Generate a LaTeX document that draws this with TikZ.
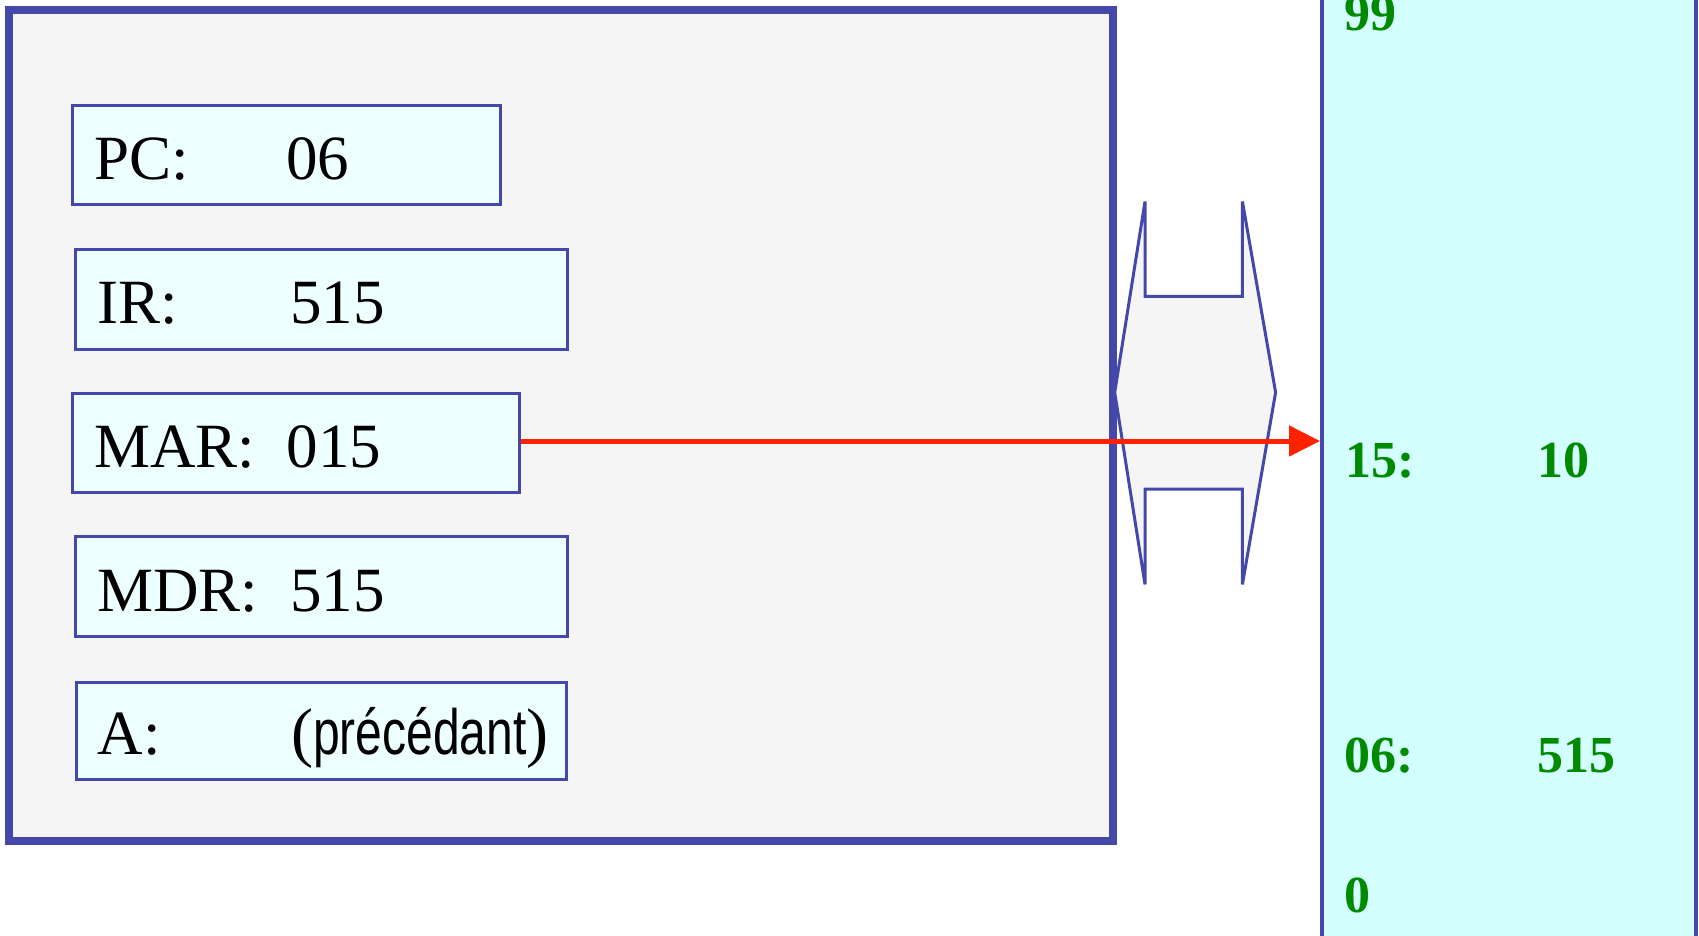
\documentclass[tikz,border=0pt]{standalone}
\usepackage{fontspec}
\setmainfont{Liberation Serif}
\setsansfont{Liberation Sans}
\usetikzlibrary{arrows.meta}
\definecolor{bord}{HTML}{4448A8}
\definecolor{cpufill}{HTML}{F5F5F5}
\definecolor{regfill}{HTML}{EEFFFF}
\definecolor{memfill}{HTML}{D4FFFF}
\definecolor{memtxt}{HTML}{008A00}
\definecolor{arrred}{HTML}{FF2200}
\tikzset{
  cpubox/.style={draw=bord, line width=8pt, fill=cpufill},
  regbox/.style={draw=bord, line width=3pt, fill=regfill, inner sep=0pt, outer sep=0pt},
  regtxt/.style={inner sep=0pt, anchor=base west, font=\fontsize{63}{70}\selectfont},
  membox/.style={draw=bord, line width=3.5pt, fill=memfill, inner sep=0pt, outer sep=0pt},
  memlbl/.style={inner sep=0pt, anchor=base west, text=memtxt, font=\fontsize{52}{60}\selectfont\bfseries},
  busshape/.style={draw=bord, line width=3pt, fill=cpufill, line join=miter},
  addrarrow/.style={draw=arrred, line width=5pt, -{Triangle[length=31pt,width=30pt]}}
}
\begin{document}
\begin{tikzpicture}[x=1pt,y=-1pt]
\useasboundingbox (0,0) rectangle (1699,935);
\clip (0,0) rectangle (1699,935);
\fill[white] (0,0) rectangle (1699,935);
% CPU
\path[cpubox] (9,9.5) rectangle (1113,841);
% registers
\node[regbox, minimum width=428.5pt, minimum height=99.5pt] (pc) at (286.25,154.75) {};
\node[regbox, minimum width=492pt, minimum height=100pt] (ir) at (321,299) {};
\node[regbox, minimum width=447pt, minimum height=99pt] (mar) at (295.5,443) {};
\node[regbox, minimum width=492pt, minimum height=99.5pt] (mdr) at (321,586.5) {};
\node[regbox, minimum width=490pt, minimum height=97.5pt] (areg) at (321,731) {};
\node[regtxt] (pcl) at (94,179) {PC:};
\node[regtxt] (pcv) at (286,179) {06};
\node[regtxt] (irl) at (97.7,323) {IR:};
\node[regtxt] (irv) at (290,323) {515};
\node[regtxt] (marl) at (94,467) {MAR:};
\node[regtxt] (marv) at (286.5,467) {015};
\node[regtxt] (mdrl) at (97,611) {MDR:};
\node[regtxt] (mdrv) at (290,611) {515};
\node[regtxt] (al) at (97.7,754) {A:};
\node[regtxt] (av) at (291,754) {{\fontsize{66}{70}\selectfont(}\scalebox{0.75}[1]{\fontsize{64}{70}\selectfont\sffamily précédant}{\fontsize{66}{70}\selectfont)}};
% bus
\draw[busshape] (1114.7,392.4) -- (1145,201.5) -- (1145,296.4) -- (1242.4,296.4) -- (1242.4,201.5)
  -- (1275.6,392.4) -- (1242.4,584.4) -- (1242.4,489) -- (1145,489) -- (1145,584.4) -- cycle;
% memory
\node[membox, minimum width=374pt, minimum height=1000pt] (mem) at (1509,467.5) {};
\node[memlbl] (m99) at (1344,30) {99};
\node[memlbl] (m15) at (1345,477) {15:};
\node[memlbl] (m15v) at (1537,477) {10};
\node[memlbl] (m06) at (1344,772) {06:};
\node[memlbl] (m06v) at (1537,772) {515};
\node[memlbl] (m0) at (1344,912) {0};
% address arrow
\coordinate (arrstart) at ([xshift=2pt,yshift=2pt]mar.east);
\draw[addrarrow] (arrstart) -- ([xshift=-2pt]arrstart -| mem.west);
\end{tikzpicture}
\end{document}
